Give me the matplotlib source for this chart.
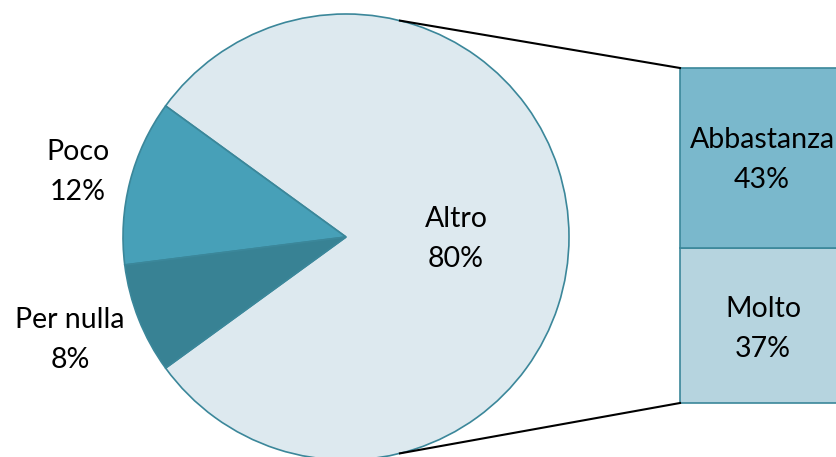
import numpy as np
import matplotlib as mpl

mpl.use("Agg")
import matplotlib.pyplot as plt

plt.rcParams["font.family"] = ["Lato", "DejaVu Sans"]

# data
pie_labels = ["Altro", "Poco", "Per nulla"]
pie_values = [80, 12, 8]
bar_labels = ["Molto", "Abbastanza"]
bar_values = [37, 43]

pie_colors = ["#dde9ef", "#47a0b8", "#388294"]
bar_colors = ["#b6d4df", "#7ab8cc"]
edge = "#3b879a"

W, H = 836, 457
fig = plt.figure(figsize=(W / 100, H / 100), dpi=100)
ax = fig.add_axes([0, 0, 1, 1])

# pie, drawn in pixel units with y pointing up
cx, cy, r = 346, H - 237, 223
start = -180 * pie_values[0] / 100.0
ax.pie(pie_values, colors=pie_colors, startangle=start, counterclock=True,
       center=(cx, cy), radius=r, frame=True,
       wedgeprops=dict(edgecolor=edge, linewidth=1.2))
ax.set_xlim(0, W)
ax.set_ylim(0, H)
ax.set_aspect("equal")
ax.axis("off")

# bar of the "Altro" slice
bx, bw = 680, 166
btop, bbot = H - 68, H - 403
scale = (btop - bbot) / sum(bar_values)
ax.bar(bx, [v * scale for v in bar_values], bottom=[bbot, bbot + bar_values[0] * scale],
       width=bw, align="edge", color=bar_colors, edgecolor=edge, linewidth=1.2)

# connector lines
ang = np.deg2rad(76)
ax.plot([cx + r * np.cos(ang), bx], [cy + r * np.sin(ang), btop], color="black", lw=1.5)
ax.plot([cx + r * np.cos(ang), bx], [cy - r * np.sin(ang), bbot], color="black", lw=1.5)

# labels: name and percent, placed by baseline
fs = 20.5
label_pos = {
    "Altro": (456, 227),
    "Poco": (78, 160),
    "Per nulla": (70, 328),
    "Abbastanza": (762, 148),
    "Molto": (763, 317),
}
values = dict(zip(pie_labels, pie_values))
values.update(dict(zip(bar_labels, bar_values)))
for name, (x, y) in label_pos.items():
    ax.text(x, H - y, name, ha="center", va="baseline", fontsize=fs, color="black")
    ax.text(x, H - y - 40, f"{values[name]}%", ha="center", va="baseline",
            fontsize=fs, color="black")

fig.savefig("out.png", dpi=100)
